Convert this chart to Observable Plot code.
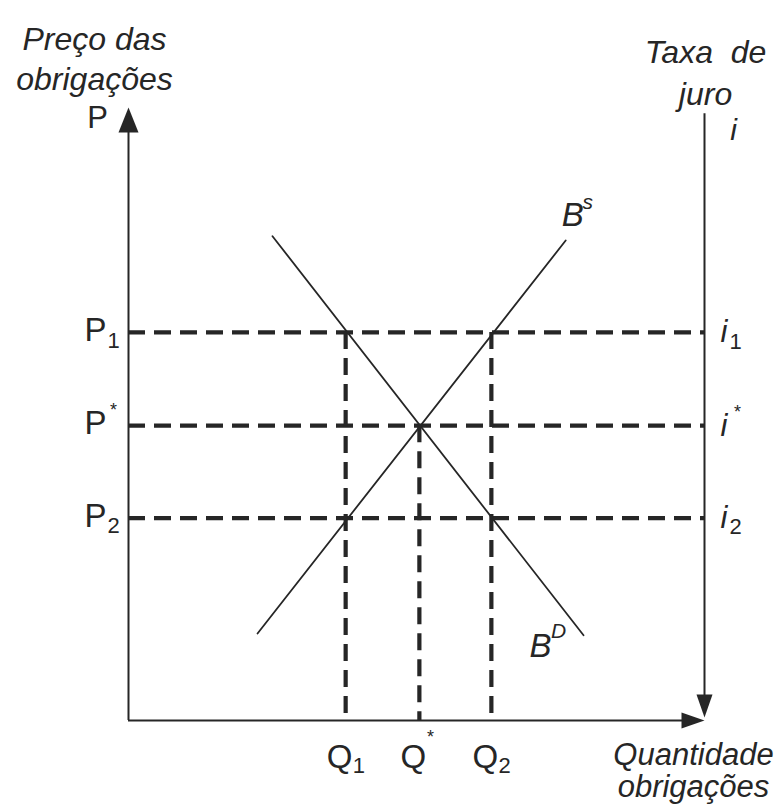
<!DOCTYPE html>
<html>
<head>
<meta charset="utf-8">
<script src="https://cdn.jsdelivr.net/npm/d3@7"></script>
<script src="https://cdn.jsdelivr.net/npm/@observablehq/plot@0.6"></script>
<style>
html, body { margin: 0; padding: 0; background: #fff; }
</style>
</head>
<body>
<div id="chart"></div>
<script>
// ---- data (abstract units: 0..100 on both axes) ----
const quantities   = [37.7, 50.5, 63.0];   // Q1, Q*, Q2
const quantityBase = ["Q", "Q", "Q"];
const quantityMark = ["1", "*", "2"];
const prices       = [63.3, 48.1, 33.0];   // P1, P*, P2
const priceBase    = ["P", "P", "P"];
const priceMark    = ["1", "*", "2"];
const rateBase     = ["i", "i", "i"];      // i1, i*, i2
const rateMark     = ["1", "*", "2"];
const dropFrom     = [63.3, 48.1, 63.3];   // price level where each vertical dashed line begins
const demandQ = [25.0, 79.0];
const demandP = [79.0, 13.9];
const supplyQ = [22.4, 75.9];
const supplyP = [14.2, 78.3];
const axisMax = 100;
const rightAxisTop = 99;
const leftTitle   = "Preço das\nobrigações";
const rightTitle  = "Taxa\u00a0 de\njuro";
const bottomTitle = "Quantidade\nobrigações";

// ---- rendering ----
const ink = "#262626";
const font = "'Liberation Sans', Arial, Helvetica, sans-serif";
const idx = d3.range(3);
const demand = demandQ.map((q, i) => ({q, p: demandP[i]}));
const supply = supplyQ.map((q, i) => ({q, p: supplyP[i]}));

const arrowBig = {draw(ctx) { ctx.moveTo(0, 0); ctx.lineTo(-10, 25); ctx.lineTo(10, 25); ctx.closePath(); }};
const arrowSmall = {draw(ctx) { ctx.moveTo(0, 0); ctx.lineTo(-8, 23); ctx.lineTo(8, 23); ctx.closePath(); }};

const dash = {stroke: ink, strokeWidth: 4.2, strokeDasharray: "17,9"};
const isStar = m => m === "*";

const chart = Plot.plot({
  width: 783,
  height: 807,
  marginLeft: 128,
  marginRight: 79,
  marginTop: 107,
  marginBottom: 87,
  x: {domain: [0, axisMax], axis: null},
  y: {domain: [0, axisMax], axis: null},
  style: {fontFamily: font, background: "#fff", color: ink},
  marks: [
    // dashed guides
    Plot.ruleY(idx, {y: i => prices[i], x1: () => 0, x2: () => axisMax, ...dash}),
    Plot.ruleX(idx, {x: i => quantities[i], y1: i => dropFrom[i], y2: () => 0, ...dash}),
    // curves
    Plot.line(demand, {x: "q", y: "p", stroke: ink, strokeWidth: 1.8}),
    Plot.line(supply, {x: "q", y: "p", stroke: ink, strokeWidth: 1.8}),
    // axes
    Plot.ruleX([0], {x: () => 0, y1: () => 0, y2: () => axisMax - 3, stroke: ink, strokeWidth: 2}),
    Plot.ruleY([0], {y: () => 0, x1: () => 0, x2: () => axisMax - 3, stroke: ink, strokeWidth: 2}),
    Plot.ruleX([0], {x: () => axisMax, y1: () => 3, y2: () => rightAxisTop, stroke: ink, strokeWidth: 2}),
    Plot.dot([0], {x: () => 0, y: () => axisMax, symbol: arrowBig, fill: ink, stroke: "none"}),
    Plot.dot([0], {x: () => axisMax, y: () => 0, symbol: arrowSmall, rotate: 90, fill: ink, stroke: "none"}),
    Plot.dot([0], {x: () => axisMax, y: () => 0, symbol: arrowSmall, rotate: 180, dy: -3, fill: ink, stroke: "none"}),

    // price labels (left)
    Plot.text(idx, {x: () => 0, y: i => prices[i], text: i => priceBase[i], textAnchor: "end", dx: -22, dy: -2, fontSize: 33}),
    Plot.text(idx.filter(i => !isStar(priceMark[i])), {x: () => 0, y: i => prices[i], text: i => priceMark[i], textAnchor: "start", dx: -21, dy: 8, fontSize: 22}),
    Plot.text(idx.filter(i => isStar(priceMark[i])), {x: () => 0, y: i => prices[i], text: i => priceMark[i], textAnchor: "middle", dx: -15, dy: -15, fontSize: 18}),

    // rate labels (right)
    Plot.text(idx, {x: () => axisMax, y: i => prices[i], text: i => rateBase[i], textAnchor: "start", dx: 16, dy: 0, fontSize: 31, fontStyle: "italic"}),
    Plot.text(idx.filter(i => !isStar(rateMark[i])), {x: () => axisMax, y: i => prices[i], text: i => rateMark[i], textAnchor: "start", dx: 25, dy: 9, fontSize: 22}),
    Plot.text(idx.filter(i => isStar(rateMark[i])), {x: () => axisMax, y: i => prices[i], text: i => rateMark[i], textAnchor: "middle", dx: 33, dy: -13, fontSize: 18}),

    // quantity labels (bottom)
    Plot.text(idx, {x: i => quantities[i], y: () => 0, text: i => quantityBase[i], textAnchor: "middle", dx: -6, dy: 37, fontSize: 33}),
    Plot.text(idx.filter(i => !isStar(quantityMark[i])), {x: i => quantities[i], y: () => 0, text: i => quantityMark[i], textAnchor: "start", dx: 7, dy: 45, fontSize: 22}),
    Plot.text(idx.filter(i => isStar(quantityMark[i])), {x: i => quantities[i], y: () => 0, text: i => quantityMark[i], textAnchor: "middle", dx: 11, dy: 17, fontSize: 18}),

    // curve labels
    Plot.text([supply[1]], {x: "q", y: "p", text: () => "B", textAnchor: "middle", dx: 7, dy: -25, fontSize: 33, fontStyle: "italic"}),
    Plot.text([supply[1]], {x: "q", y: "p", text: () => "s", textAnchor: "middle", dx: 22, dy: -38, fontSize: 21, fontStyle: "italic"}),
    Plot.text([demand[1]], {x: "q", y: "p", text: () => "B", textAnchor: "middle", dx: -43, dy: 11, fontSize: 33, fontStyle: "italic"}),
    Plot.text([demand[1]], {x: "q", y: "p", text: () => "D", textAnchor: "middle", dx: -25, dy: -4, fontSize: 21, fontStyle: "italic"}),

    // axis titles
    Plot.text([leftTitle], {x: () => 0, y: () => axisMax, text: d => d, textAnchor: "middle", lineAnchor: "top", lineHeight: 1.26, dx: -34, dy: -86, fontSize: 32, fontStyle: "italic"}),
    Plot.text(["P"], {x: () => 0, y: () => axisMax, text: d => d, textAnchor: "middle", dx: -31, dy: 11, fontSize: 31}),
    Plot.text([rightTitle], {x: () => axisMax, y: () => axisMax, text: d => d, textAnchor: "middle", lineAnchor: "top", lineHeight: 1.3, dx: 1, dy: -74, fontSize: 32, fontStyle: "italic"}),
    Plot.text(["i"], {x: () => axisMax, y: () => axisMax, text: d => d, textAnchor: "middle", dx: 29, dy: 23, fontSize: 30, fontStyle: "italic"}),
    Plot.text([bottomTitle], {x: () => axisMax, y: () => 0, text: d => d, textAnchor: "middle", lineAnchor: "top", lineHeight: 1.02, dx: -11, dy: 22, fontSize: 31, fontStyle: "italic"})
  ]
});
document.getElementById("chart").appendChild(chart);
</script>
</body>
</html>
